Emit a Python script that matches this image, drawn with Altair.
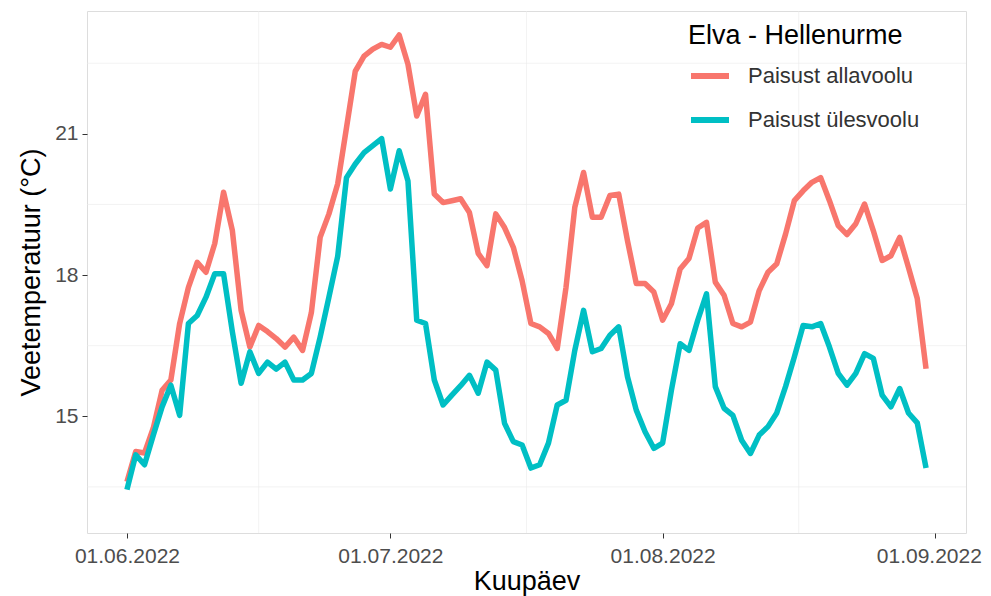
import altair as alt
import pandas as pd

# Daily water temperature, 1 June - 31 August 2022
dates = pd.date_range("2022-06-01", "2022-08-31", freq="D").strftime("%Y-%m-%d").tolist()

allavoolu = [
    13.61, 14.25, 14.22, 14.75, 15.55, 15.77, 16.97, 17.74, 18.27, 18.06,
    18.67, 19.76, 18.95, 17.25, 16.47, 16.93, 16.80, 16.65, 16.47, 16.68,
    16.40, 17.20, 18.80, 19.30, 19.94, 21.13, 22.33, 22.65, 22.80, 22.90,
    22.84, 23.10, 22.48, 21.38, 21.84, 19.72, 19.54, 19.58, 19.62, 19.33,
    18.46, 18.20, 19.30, 19.01, 18.59, 17.88, 16.97, 16.90, 16.76, 16.44,
    17.74, 19.44, 20.18, 19.23, 19.23, 19.69, 19.72, 18.73, 17.82, 17.82,
    17.64, 17.04, 17.39, 18.13, 18.35, 19.00, 19.12, 17.85, 17.57, 16.97,
    16.90, 17.00, 17.67, 18.06, 18.24, 18.87, 19.58, 19.79, 19.97, 20.07,
    19.58, 19.05, 18.86, 19.09, 19.51, 18.94, 18.31, 18.41, 18.80, 18.16,
    17.50, 16.01,
]

ylesvoolu = [
    13.44, 14.18, 13.97, 14.60, 15.20, 15.66, 15.02, 16.97, 17.14, 17.53,
    18.03, 18.03, 16.80, 15.70, 16.37, 15.91, 16.15, 16.00, 16.15, 15.77,
    15.77, 15.91, 16.68, 17.53, 18.40, 20.07, 20.36, 20.60, 20.75, 20.90,
    19.83, 20.64, 20.00, 17.04, 16.97, 15.77, 15.24, 15.45, 15.65, 15.87,
    15.49, 16.15, 15.98, 14.85, 14.46, 14.39, 13.90, 13.97, 14.43, 15.24,
    15.34, 16.40, 17.25, 16.37, 16.44, 16.72, 16.90, 15.84, 15.13, 14.67,
    14.32, 14.43, 15.55, 16.54, 16.40, 17.04, 17.60, 15.63, 15.17, 15.02,
    14.49, 14.21, 14.60, 14.78, 15.07, 15.63, 16.26, 16.93, 16.90, 16.97,
    16.47, 15.91, 15.66, 15.91, 16.33, 16.23, 15.45, 15.20, 15.59, 15.07,
    14.86, 13.90,
]

series_names = ["Paisust allavoolu", "Paisust ülesvoolu"]
series_colors = ["#F8766D", "#00BFC4"]

y_major = [15, 18, 21]
y_minor = [13.5, 16.5, 19.5, 22.5]
x_major = ["2022-06-01", "2022-07-01", "2022-08-01", "2022-09-01"]
x_minor = ["2022-06-16T00:00:00Z", "2022-07-16T12:00:00Z", "2022-08-16T12:00:00Z"]

df = pd.DataFrame({
    "date": dates * 2,
    "temp": allavoolu + ylesvoolu,
    "series": [series_names[0]] * len(dates) + [series_names[1]] * len(dates),
})

x_dom = [
    alt.DateTime(year=2022, month=5, date=27, hours=10, minutes=48, utc=True),
    alt.DateTime(year=2022, month=9, date=4, hours=13, minutes=12, utc=True),
]
x_scale = alt.Scale(type="utc", domain=x_dom, nice=False)
y_scale = alt.Scale(domain=[12.52, 23.61], nice=False, zero=False)

grid_major = "#EBEBEB"

minor_y = alt.Chart(pd.DataFrame({"v": y_minor})).mark_rule(
    color=grid_major, strokeWidth=0.6
).encode(y=alt.Y("v:Q", scale=y_scale, axis=None))

minor_x = alt.Chart(pd.DataFrame({"d": x_minor})).mark_rule(
    color=grid_major, strokeWidth=0.6
).encode(x=alt.X("d:T", scale=x_scale, axis=None))

lines = alt.Chart(df).mark_line(strokeWidth=5.5, strokeJoin="round", strokeCap="butt").encode(
    x=alt.X(
        "date:T",
        scale=x_scale,
        axis=alt.Axis(
            title="Kuupäev",
            values=[alt.DateTime(year=int(s[:4]), month=int(s[5:7]), date=int(s[8:10]), utc=True) for s in x_major],
            labelExpr="utcFormat(datum.value, '%d.%m.%Y')",
            labelFontSize=21,
            labelColor="#4D4D4D",
            labelOverlap=False,
            labelOffset={"condition": {"test": "datum.index == 1", "value": -6}, "value": 0},
            titleFontSize=27,
            titleFontWeight="normal",
            titleColor="black",
            titlePadding=2,
            labelPadding=7,
            tickSize=5,
            tickColor="#333333",
            gridColor=grid_major,
            gridWidth=1.2,
            domain=False,
        ),
    ),
    y=alt.Y(
        "temp:Q",
        scale=y_scale,
        axis=alt.Axis(
            title="Veetemperatuur (°C)",
            values=y_major,
            labelFontSize=21,
            labelColor="#4D4D4D",
            titleFontSize=27,
            titleFontWeight="normal",
            titleColor="black",
            titlePadding=9,
            labelPadding=4,
            tickSize=5,
            tickColor="#333333",
            gridColor=grid_major,
            gridWidth=1.2,
            domain=False,
        ),
    ),
    color=alt.Color(
        "series:N",
        scale=alt.Scale(domain=series_names, range=series_colors),
        legend=alt.Legend(
            title="Elva - Hellenurme",
            orient="none",
            legendX=601,
            legendY=12,
            titleFontSize=27,
            titleFontWeight="normal",
            titleColor="black",
            titlePadding=4,
            titleLimit=400,
            labelLimit=400,
            labelFontSize=22,
            labelColor="#333333",
            labelOffset=16,
            symbolType="stroke",
            symbolSize=1444,
            symbolStrokeWidth=6,
            rowPadding=10,
        ),
    ),
)

chart = alt.layer(minor_y, minor_x, lines).resolve_axis(
    x="independent", y="independent"
).properties(
    width=879,
    height=522,
    autosize=alt.AutoSizeParams(type="none"),
    padding={"left": 79, "top": 3, "right": 17, "bottom": 63},
).configure_view(
    stroke="#333333", strokeWidth=1.2
).configure(font="Liberation Sans")

chart.save("out.html", embed_options={"renderer": "svg", "actions": False})
